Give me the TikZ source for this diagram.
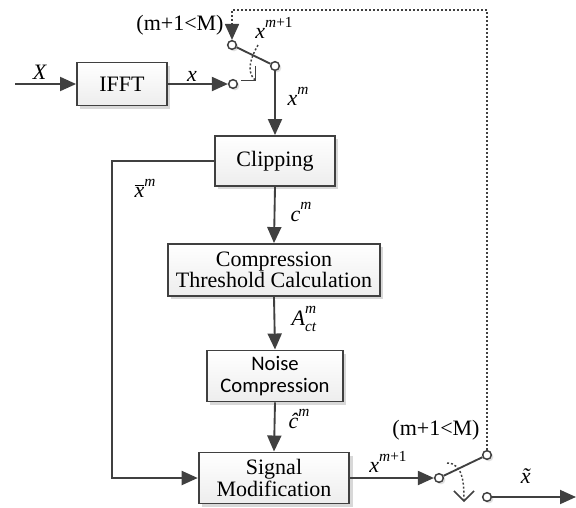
\documentclass[tikz,border=0pt]{standalone}
\usepackage{fontspec}
\setmainfont{Liberation Serif}
\newfontfamily\calibri{Carlito}
\usepackage{tikz}
\usetikzlibrary{arrows.meta, positioning, shadows, calc}
\definecolor{LineGray}{RGB}{64,64,64}
\newcommand{\supsz}{\fontsize{11.5}{12}\selectfont}
\newcommand{\up}[1]{\raisebox{1.1ex}{\supsz #1}}

\begin{document}
\begin{tikzpicture}[x=0.75pt, y=-0.75pt,
  blk/.style={draw=LineGray, line width=1.4pt, top color=white, bottom color=black!7,
              drop shadow={shadow xshift=2.5pt, shadow yshift=-2.5pt, fill=black!30},
              font=\fontsize{16.5}{13.5}\selectfont, align=center, inner sep=0pt},
  cnt/.style={circle, draw=LineGray, fill=white, line width=1.1pt,
              minimum size=6.5pt, inner sep=0pt,
              drop shadow={shadow xshift=1.5pt, shadow yshift=-1.5pt, fill=black!25}},
  lbl/.style={font=\fontsize{16.5}{18}\selectfont, inner sep=0pt},
  arr/.style={-{Triangle[length=12pt,width=10.5pt]}, LineGray, line width=1.4pt},
  ln/.style={LineGray, line width=1.4pt},
  fbk/.style={LineGray, line width=1.3pt, dash pattern=on 1.5pt off 1.5pt,
              -{Triangle[length=12pt,width=10.5pt]}},
  turn/.style={LineGray, line width=1.1pt, dash pattern=on 1.5pt off 1.5pt,
               -{Straight Barb[length=7.5pt,width=15pt]}},
]
\useasboundingbox (0,0) rectangle (576,508);

% Blocks
\node[blk, minimum width=67.5pt, minimum height=32.3pt] (ifft) at (122,84) {IFFT};
\node[blk, minimum width=90pt, minimum height=37.5pt]   (clip) at (275,161) {Clipping};
\node[blk, minimum width=159pt, minimum height=39pt]    (ctc)  at (274,270) {Compression\\Threshold Calculation};
\node[blk, minimum width=102pt, minimum height=38.3pt,
      font=\calibri\fontsize{15.5}{16.5}\selectfont]    (nc)   at (275,376) {Noise\\Compression};
\node[blk, minimum width=113pt, minimum height=38.3pt]  (sig)  at (274,478) {Signal\\Modification};

% Switch contacts
\node[cnt] (a1) at (233,84) {};
\node[cnt] (a2) at (232,45) {};
\node[cnt] (p1) at (275,66) {};
\node[cnt] (p2) at (439,478) {};
\node[cnt] (b2) at (487,455) {};
\node[cnt] (b1) at (487,497) {};

\coordinate (in)  at (15,84);
\coordinate (out) at (576,497);
\coordinate (fb)  at (487,10);
\coordinate (fbx) at (112,0);

% Connectors
\draw[arr] (in) -- (ifft.west);
\draw[arr] (ifft.east) -- (a1);
\draw[ln]  (a2) -- (p1);
\draw[arr] (p1) -- (clip.north);
\draw[arr] (clip.south) -- (ctc.north);
\draw[arr] (ctc.south) -- (nc.north);
\draw[arr] (nc.south) -- (sig.north);
\draw[arr] (clip.west) -- (clip.west -| fbx) |- (sig.west);
\draw[arr] (sig.east) -- (p2);
\draw[ln]  (p2) -- (b2);
\draw[arr] (b1) -- (out);
\draw[fbk] (b2) -- (fb) -| (a2);

% Switch motion
\draw[turn] (258,45) to[out=240,in=135] (256,81);
\draw[turn] (447,463) to[out=0,in=90] (464,502);

% Labels
\node[lbl] (lX)   at (40,72)   {\textit{X}};
\node[lbl] (lx)   at (192,76)  {\textit{x}};
\node[lbl] (lcnd) at (180,25)  {(m+1<M)};
\node[lbl] (lxn)  at (274,28)  {\textit{x}\up{\textit{m}+1}};
\node[lbl] (lxm)  at (298,96)  {\textit{x}\up{\textit{m}}};
\node[lbl] (lxb)  at (145,188) {$\overline{\mbox{\itshape x}}$\up{\textit{m}}};
\node[lbl] (lcm)  at (301,212) {\textit{c}\up{\textit{m}}};
\node[lbl] (lA)   at (304,319) {\textit{A}\rlap{\raisebox{1.2ex}{\supsz\textit{m}}}\raisebox{-0.6ex}{\supsz\textit{ct}}};
\node[lbl] (lch)  at (299,419) {\textit{\^c}\up{\textit{m}}};
\node[lbl] (lxo)  at (388,462) {\textit{x}\up{\textit{m}+1}};
\node[lbl] (lcnd2) at (436,430) {(m+1<M)};
\node[lbl] (lxt)  at (530,476) {\textit{\~x}};
\end{tikzpicture}
\end{document}
